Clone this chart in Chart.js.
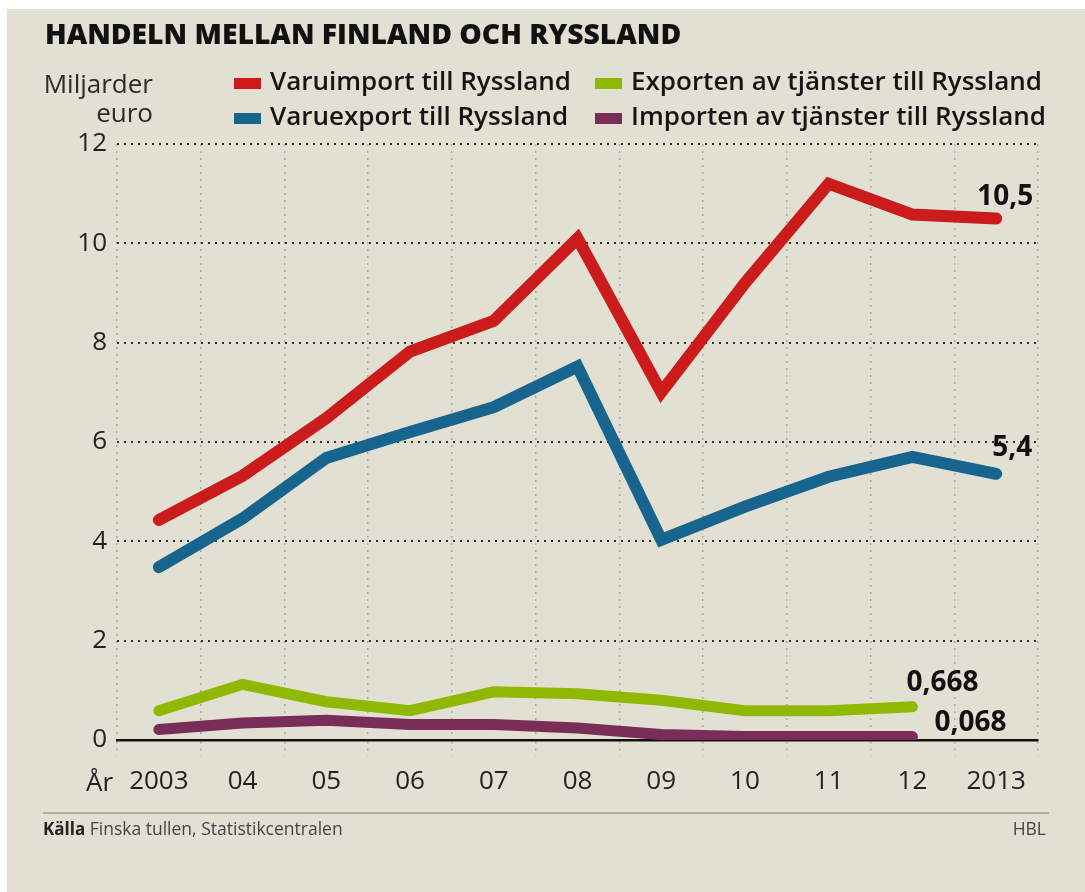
<!DOCTYPE html>
<html><head><meta charset="utf-8">
<script src="https://cdn.jsdelivr.net/npm/chart.js@4.4.0/dist/chart.umd.min.js"></script>
<style>
html,body{margin:0;padding:0;background:#fff;}
#wrap{position:absolute;left:7px;top:9px;width:1078px;height:883px;background:#e2e0d3;}
canvas{display:block;}
</style></head><body>
<div id="wrap"><canvas id="c"></canvas></div>
<script>
// ---- data ----
const categories = ['2003','04','05','06','07','08','09','10','11','12','2013'];
const varuimport = [4.43, 5.32, 6.48, 7.82, 8.44, 10.1, 7.0, 9.2, 11.2, 10.58, 10.5];
const varuexport = [3.48, 4.46, 5.68, 6.2, 6.7, 7.52, 4.03, 4.7, 5.3, 5.7, 5.36];
const tjansterExport = [0.59, 1.12, 0.77, 0.59, 0.97, 0.93, 0.8, 0.59, 0.59, 0.668, null];
const tjansterImport = [0.21, 0.34, 0.4, 0.31, 0.31, 0.24, 0.11, 0.07, 0.068, 0.068, null];
const seriesNames = ['Varuimport till Ryssland','Varuexport till Ryssland','Exporten av tjänster till Ryssland','Importen av tjänster till Ryssland'];
const endLabels = ['10,5','5,4','0,668','0,068'];
const yMin = 0, yMax = 12, yStep = 2;

const colors = ['#cb1b1b','#17658f','#8fb800','#7b2d59'];

const W = 1078, H = 883;
const cv = document.getElementById('c');
cv.width = W; cv.height = H; cv.style.width = W+'px'; cv.style.height = H+'px';

const decor = {
  id: 'decor',
  afterDatasetsDraw(chart) {
    const ctx = chart.ctx;
    ctx.save();
    const anchors = [
      {ds:0, idx:10, dx:37, dy:-21, align:'right'},
      {ds:1, idx:10, dx:36, dy:-26, align:'right'},
      {ds:2, idx:9, dx:-6, dy:-24, align:'left'},
      {ds:3, idx:9, dx:22, dy:-14, align:'left'}
    ];
    ctx.font = '700 28px "Open Sans"';
    ctx.fillStyle = '#111';
    ctx.textBaseline = 'middle';
    anchors.forEach((a, i) => {
      const pt = chart.getDatasetMeta(a.ds).data[a.idx];
      ctx.textAlign = a.align;
      ctx.fillText(endLabels[i], pt.x + a.dx, pt.y + a.dy);
    });
    ctx.restore();
  },
  afterDraw(chart) {
    const ctx = chart.ctx;
    ctx.save();
    // title
    ctx.fillStyle = '#111';
    ctx.textAlign = 'left';
    ctx.textBaseline = 'alphabetic';
    ctx.font = '800 28.3px "Open Sans"';
    ctx.fillText('HANDELN MELLAN FINLAND OCH RYSSLAND', 38, 35);
    // axis title
    ctx.font = '400 26px "Open Sans"';
    ctx.fillStyle = '#2a2a2a';
    ctx.textAlign = 'right';
    ctx.fillText('Miljarder', 146, 84);
    ctx.fillText('euro', 146, 113);
    // legend
    const order = [0,2,1,3];
    const pos = [
      {sx:227, tx:263, base:81},
      {sx:588, tx:624, base:81},
      {sx:227, tx:263, base:116},
      {sx:588, tx:624, base:116}
    ];
    ctx.font = '600 26px "Open Sans"';
    ctx.textAlign = 'left';
    order.forEach((di, k) => {
      const ds = chart.data.datasets[di];
      const p = pos[k];
      ctx.fillStyle = ds.borderColor;
      ctx.fillRect(p.sx, p.base - 12, 27, 11);
      ctx.fillStyle = '#151515';
      ctx.fillText(ds.label, p.tx, p.base);
    });
    // År
    const xs = chart.scales.x;
    ctx.font = '400 26px "Open Sans"';
    ctx.fillStyle = '#222';
    ctx.textAlign = 'left';
    ctx.textBaseline = 'middle';
    ctx.fillText('År', 79, xs.top + 44);
    // footer
    ctx.strokeStyle = '#9d9c92';
    ctx.lineWidth = 1.5;
    ctx.beginPath(); ctx.moveTo(36, 804); ctx.lineTo(1042, 804); ctx.stroke();
    ctx.textBaseline = 'alphabetic';
    ctx.font = '700 17px "Open Sans"';
    ctx.fillStyle = '#222';
    ctx.fillText('Källa', 36, 826);
    const kw = ctx.measureText('Källa').width;
    ctx.font = '400 17.5px "Open Sans"';
    ctx.fillStyle = '#444';
    ctx.fillText(' Finska tullen, Statistikcentralen', 36 + kw, 826);
    ctx.textAlign = 'right';
    ctx.fillText('HBL', 1039, 826);
    ctx.restore();
  }
};

const mk = (i, data, w) => ({
  label: seriesNames[i], data, borderColor: colors[i], backgroundColor: colors[i],
  borderWidth: w, pointRadius: 0, pointHoverRadius: 0, tension: 0,
  borderCapStyle: 'round', borderJoinStyle: 'miter', fill: false, spanGaps: false
});

new Chart(cv, {
  type: 'line',
  data: {
    labels: categories,
    datasets: [
      mk(0, varuimport, 12),
      mk(1, varuexport, 12),
      mk(2, tjansterExport, 11),
      mk(3, tjansterImport, 11)
    ]
  },
  options: {
    responsive: false,
    animation: false,
    events: [],
    layout: { padding: { left: 0, right: 47, top: 135, bottom: 92 } },
    plugins: { legend: { display: false }, title: { display: false }, tooltip: { enabled: false } },
    scales: {
      x: {
        offset: true,
        grid: { offset: true, color: '#a9a89f', lineWidth: 1.5, drawTicks: true, tickLength: 16,
                tickColor: '#a9a89f', tickWidth: 1.5, tickBorderDash: [2,5] },
        border: { display: true, color: '#111', width: 2.5, dash: [2,5] },
        ticks: { color: '#222', font: { family: 'Open Sans', size: 26 }, padding: 10, maxRotation: 0, autoSkip: false },
        afterFit: s => { s.height = 60; }
      },
      y: {
        min: yMin, max: yMax,
        grid: { color: '#2e2e2a', lineWidth: 2, drawTicks: false },
        border: { display: false, dash: [2,5] },
        ticks: { stepSize: yStep, color: '#222', font: { family: 'Open Sans', size: 26 }, padding: 10 },
        afterFit: s => { s.width = 110; }
      }
    }
  },
  plugins: [decor]
});
</script>
</body></html>
